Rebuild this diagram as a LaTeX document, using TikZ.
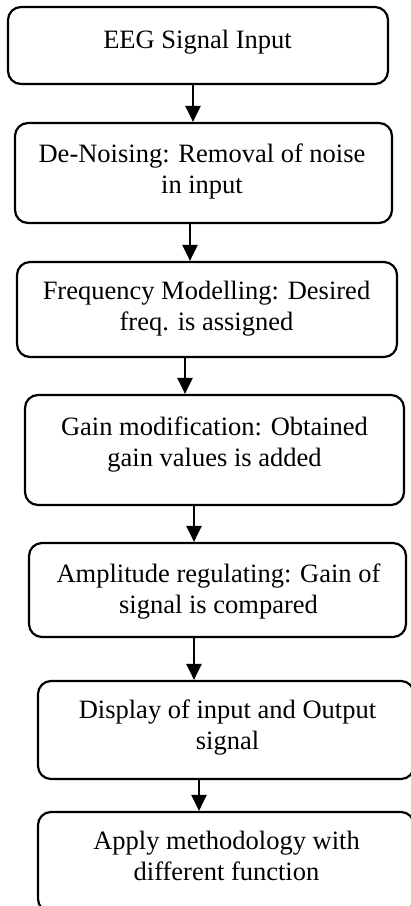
\documentclass[tikz,border=0pt]{standalone}
\usepackage{fontspec}
\setmainfont{Liberation Serif}
\usetikzlibrary{positioning,arrows.meta}

\tikzset{
  stepbox/.style={draw, line width=2.2pt, rounded corners=13pt, inner sep=0pt},
  steptext/.style={align=center, font=\fontsize{26.5}{30.5}\selectfont, inner sep=0pt, anchor=base},
  flow/.style={line width=2.2pt, -{Triangle[width=15pt,length=16pt]}}
}

\begin{document}
\begin{tikzpicture}
  \useasboundingbox (0,0) rectangle (411pt,-906pt);
  \clip (0,0) rectangle (411pt,-906pt);

  % boxes
  \node[stepbox, minimum width=380pt, minimum height=77pt]  (b1) at (198pt,-45.5pt) {};
  \node[stepbox, minimum width=377pt, minimum height=100pt] (b2) at (203.5pt,-173pt) {};
  \node[stepbox, minimum width=380pt, minimum height=95pt]  (b3) at (207pt,-309.5pt) {};
  \node[stepbox, minimum width=379pt, minimum height=110pt] (b4) at (214.5pt,-450pt) {};
  \node[stepbox, minimum width=377pt, minimum height=94pt]  (b5) at (217.5pt,-590pt) {};
  \node[stepbox, minimum width=376pt, minimum height=98pt]  (b6) at (226pt,-730pt) {};
  \node[stepbox, minimum width=376pt, minimum height=100pt] (b7) at (226pt,-862pt) {};

  % texts (base = baseline of the last line)
  \node[steptext] (t1) at (197.5pt,-48pt)  {EEG Signal Input};
  \node[steptext] (t2) at (202pt,-193pt)   {De-Noising: Removal of noise\\in input};
  \node[steptext] (t3) at (206.5pt,-330pt) {Frequency Modelling: Desired\\freq. is assigned};
  \node[steptext] (t4) at (214.5pt,-466pt) {Gain modification: Obtained\\gain values is added};
  \node[steptext] (t5) at (218.5pt,-613pt) {Amplitude regulating: Gain of\\signal is compared};
  \node[steptext] (t6) at (227.5pt,-749pt) {Display of input and Output\\signal};
  \node[steptext] (t7) at (226.5pt,-880pt) {Apply methodology with\\different function};

  % arrows
  \coordinate (a1) at (193pt,0);
  \coordinate (a2) at (190pt,0);
  \coordinate (a3) at (185pt,0);
  \coordinate (a4) at (194pt,0);
  \coordinate (a5) at (194pt,0);
  \coordinate (a6) at (199pt,0);
  \draw[flow] (b1.south -| a1) -- (b2.north -| a1);
  \draw[flow] (b2.south -| a2) -- (b3.north -| a2);
  \draw[flow] (b3.south -| a3) -- (b4.north -| a3);
  \draw[flow] (b4.south -| a4) -- (b5.north -| a4);
  \draw[flow] (b5.south -| a5) -- (b6.north -| a5);
  \draw[flow] (b6.south -| a6) -- (b7.north -| a6);
\end{tikzpicture}
\end{document}
